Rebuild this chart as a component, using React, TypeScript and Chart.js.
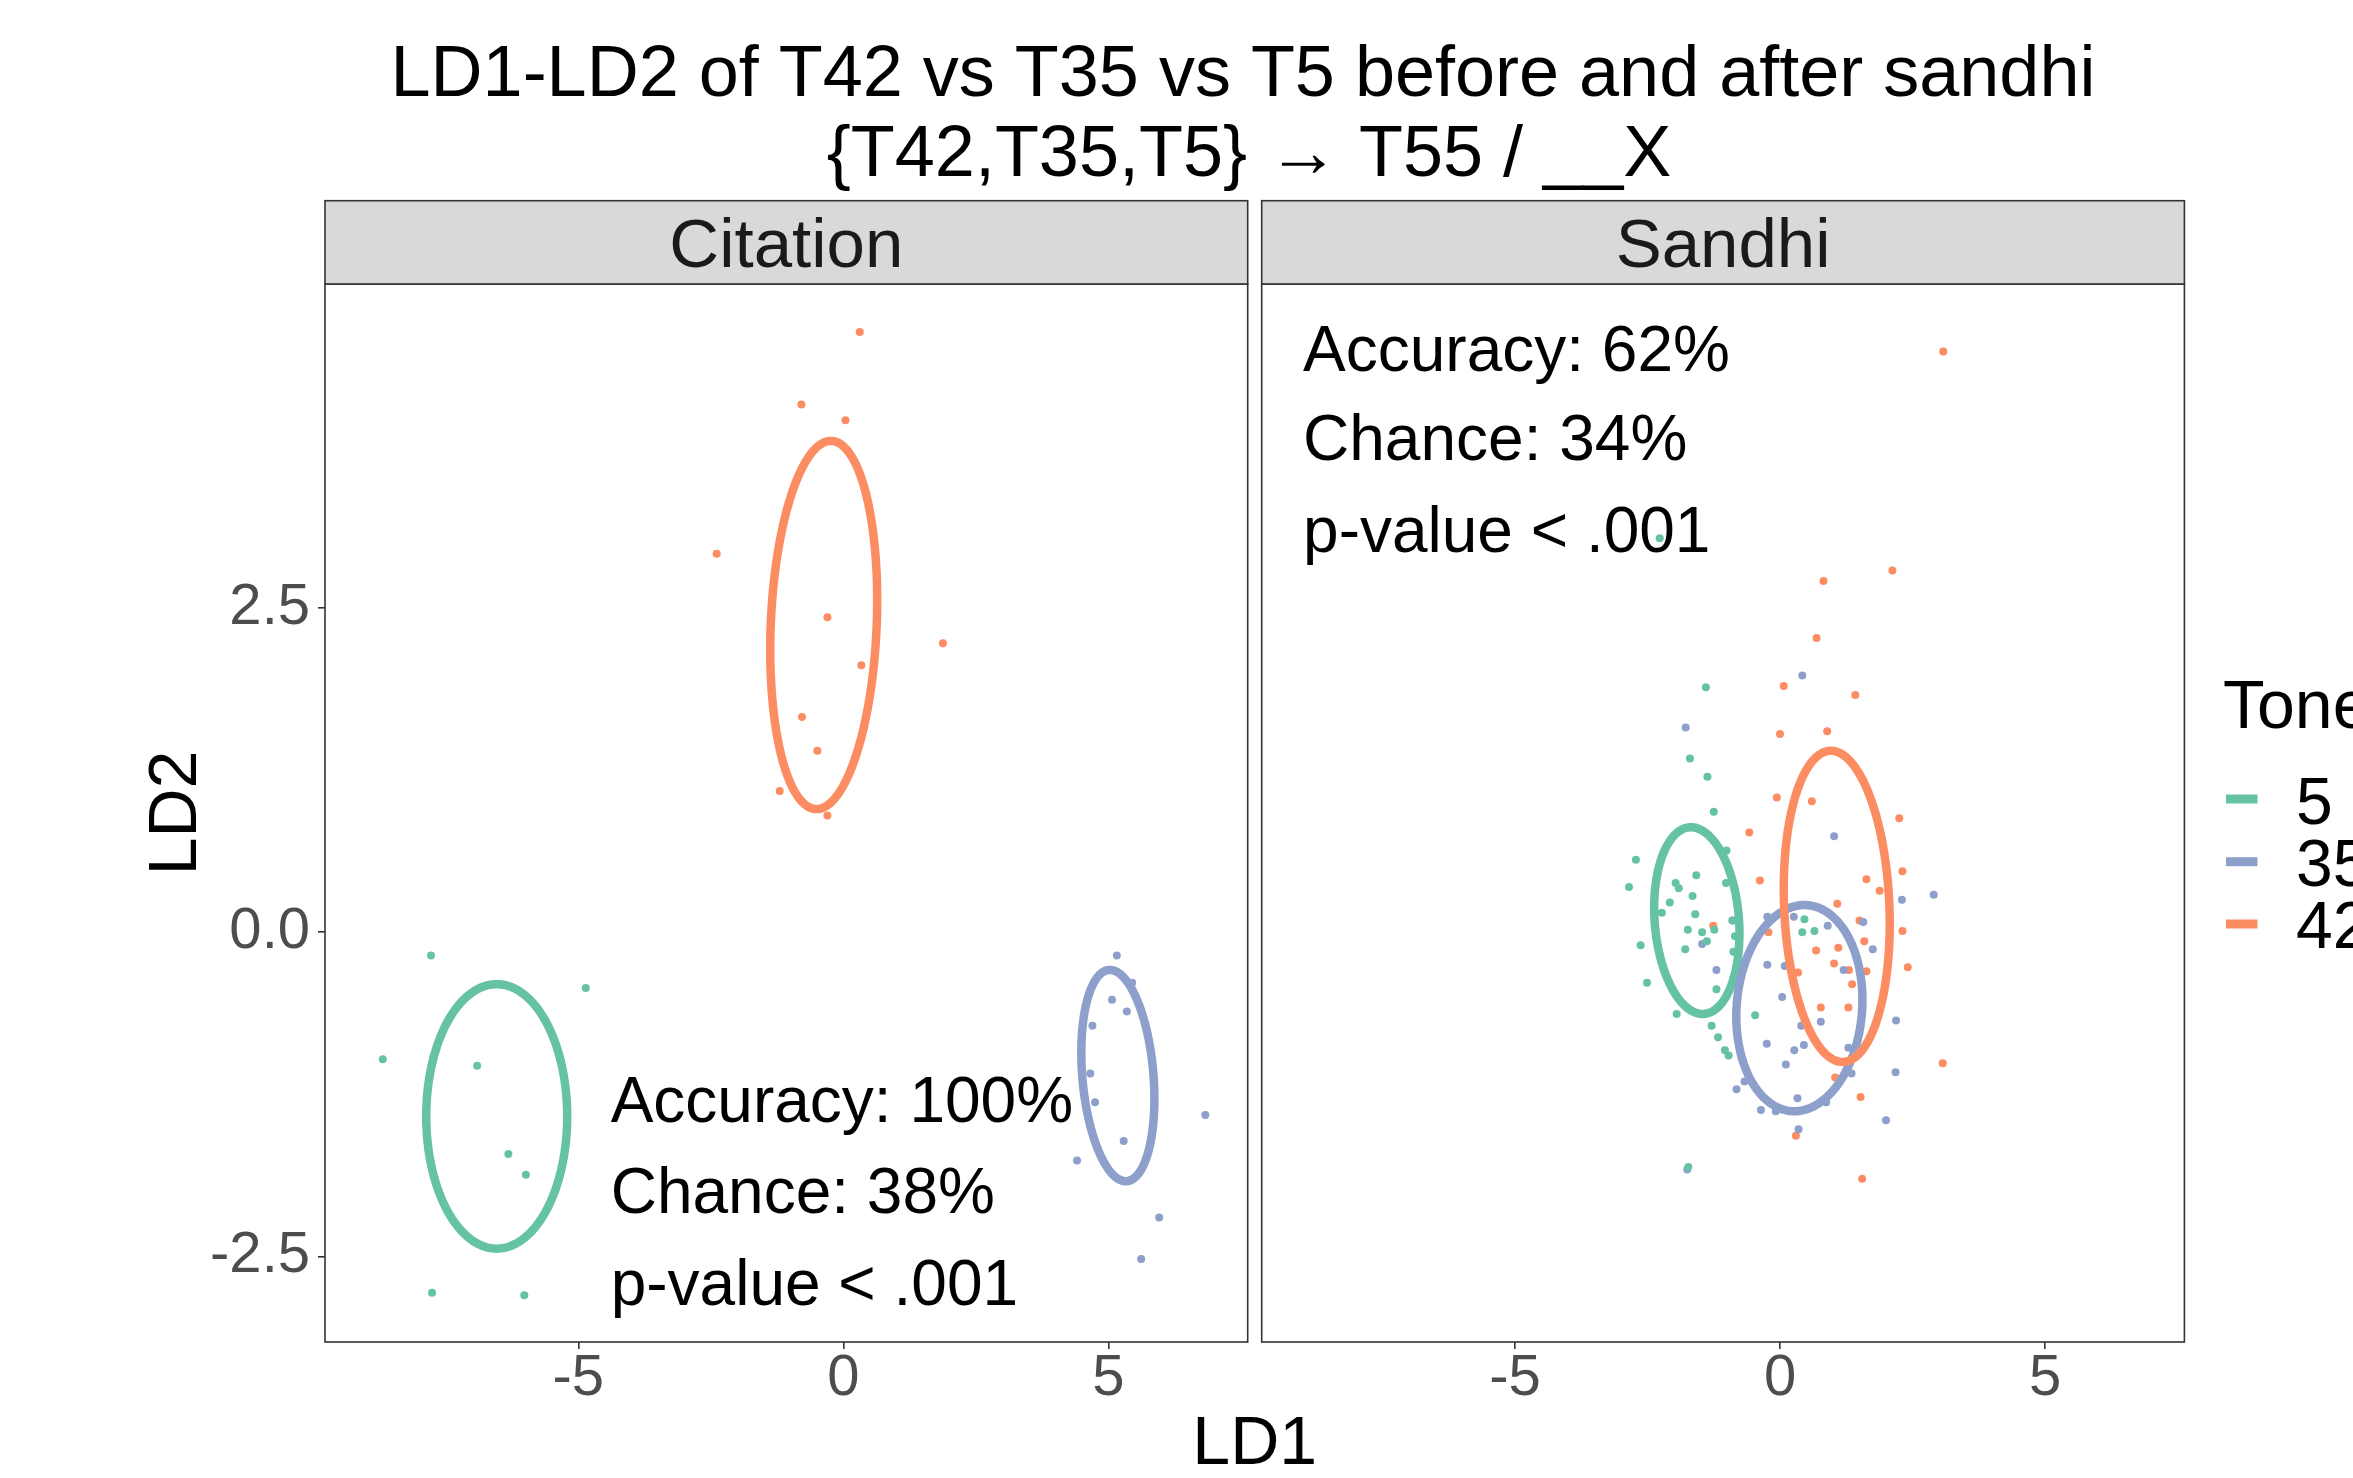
import { useEffect, useRef } from 'react';
import { Chart, registerables } from 'chart.js';

Chart.register(...registerables);

// ---------- data ----------
const toneLabels = ['5', '35', '42'];
const toneColors = ['#66C2A5', '#8DA0CB', '#FC8D62'];
const panelLabels = ['Citation', 'Sandhi'];
const xTickValues = [-5, 0, 5];
const yTickValues = [-2.5, 0, 2.5];
const xLimits = [-9.78, 7.63];
const yLimits = [-3.16, 5.0];

const citationTone5: [number, number][] = [
  [-7.78, -0.18], [-4.86, -0.43], [-8.69, -0.98], [-6.91, -1.03], [-6.32, -1.71],
  [-5.99, -1.87], [-7.76, -2.78], [-6.02, -2.8],
];
const citationTone35: [number, number][] = [
  [5.16, -0.18], [5.45, -0.39], [5.07, -0.52], [5.35, -0.61], [4.7, -0.72], [4.66, -1.09],
  [4.75, -1.31], [5.29, -1.61], [4.41, -1.76], [6.83, -1.41], [5.96, -2.2], [5.62, -2.52],
];
const citationTone42: [number, number][] = [
  [0.31, 4.63], [-0.79, 4.07], [0.04, 3.95], [-2.39, 2.92], [-0.3, 2.43], [1.88, 2.23],
  [0.34, 2.06], [-0.78, 1.66], [-0.49, 1.4], [-1.2, 1.09], [-0.3, 0.9],
];

const sandhiTone5: [number, number][] = [
  [-2.27, 3.04], [-1.4, 1.89], [-1.7, 1.34], [-1.37, 1.2], [-1.25, 0.93], [-2.72, 0.56],
  [-2.85, 0.35], [-1.01, 0.63], [-1.58, 0.44], [-1.97, 0.38], [-1.91, 0.34], [-1.65, 0.28],
  [-1.02, 0.38], [-2.08, 0.23], [-2.23, 0.15], [-1.6, 0.14], [-0.89, 0.09], [-1.74, 0.02],
  [-1.47, 0.0], [-1.38, -0.07], [-1.24, 0.02], [-0.85, -0.03], [-1.79, -0.13], [-0.88, -0.15],
  [-2.63, -0.1], [0.46, 0.1], [0.42, 0.0], [0.65, 0.01], [-1.2, -0.44], [-2.51, -0.39],
  [-1.95, -0.63], [-0.47, -0.64], [-1.29, -0.72], [-1.17, -0.81], [-1.04, -0.91], [-0.97, -0.95],
  [-1.73, -1.81],
];
const sandhiTone35: [number, number][] = [
  [0.42, 1.98], [-1.78, 1.58], [1.02, 0.74], [2.3, 0.25], [2.9, 0.29], [-0.24, 0.12],
  [0.26, 0.12], [0.9, 0.05], [1.57, 0.08], [-0.9, 0.09], [-1.47, -0.09], [1.75, -0.13],
  [-1.2, -0.29], [-0.24, -0.25], [0.09, -0.26], [1.2, -0.29], [0.04, -0.5], [0.77, -0.69],
  [2.19, -0.68], [0.4, -0.72], [-0.25, -0.86], [0.27, -0.91], [0.45, -0.87], [1.29, -0.89],
  [0.11, -1.02], [2.18, -1.08], [1.35, -1.09], [-0.67, -1.15], [-0.82, -1.21], [-0.36, -1.37],
  [-0.08, -1.38], [0.33, -1.28], [0.87, -1.31], [2.0, -1.45], [0.35, -1.52], [-1.75, -1.83],
];
const sandhiTone42: [number, number][] = [
  [3.08, 4.48], [2.12, 2.79], [0.82, 2.71], [0.69, 2.27], [0.07, 1.9], [1.42, 1.83],
  [0.0, 1.53], [0.89, 1.55], [-0.06, 1.04], [0.6, 1.01], [2.25, 0.88], [-0.58, 0.77],
  [-0.38, 0.4], [2.31, 0.47], [1.63, 0.41], [1.88, 0.32], [1.08, 0.22], [-1.26, 0.05],
  [-0.22, 0.0], [1.5, 0.09], [2.31, 0.01], [1.59, -0.07], [1.1, -0.12], [0.68, -0.14],
  [1.02, -0.24], [2.41, -0.27], [1.3, -0.29], [1.63, -0.3], [0.34, -0.31], [1.36, -0.4],
  [0.77, -0.58], [1.29, -0.58], [3.07, -1.01], [1.04, -1.12], [1.52, -1.27], [0.3, -1.57],
  [1.55, -1.9],
];

// ellipse = centre + u*cos(t) + v*sin(t), in data units
const citationEllipseCenters: [number, number][] = [[-6.54, -1.42], [5.18, -1.105], [-0.37, 2.37]];
const citationEllipseU: [number, number][] = [[1.33, 0], [0.673, 0], [1.0, 0]];
const citationEllipseV: [number, number][] = [[0, 1.02], [-0.15, 0.815], [0.135, 1.42]];
const sandhiEllipseCenters: [number, number][] = [[-1.57, 0.09], [0.365, -0.585], [1.07, 0.2]];
const sandhiEllipseU: [number, number][] = [[0.797, 0], [1.186, 0], [0.994, 0]];
const sandhiEllipseV: [number, number][] = [[-0.11, 0.72], [0.095, 0.795], [-0.11, 1.2]];

const citationStats = ['Accuracy: 100%', 'Chance: 38%', 'p-value < .001'];
const sandhiStats = ['Accuracy: 62%', 'Chance: 34%', 'p-value < .001'];

const titleLines = ['LD1-LD2 of T42 vs T35 vs T5 before and after sandhi', '{T42,T35,T5} \u2192 T55 / __X'];
const xTitle = 'LD1';
const yTitle = 'LD2';
const legendTitle = 'Tone';

// ---------- layout ----------
const W = 2353;
const H = 1478;
const FONT = "'Liberation Sans', Arial, Helvetica, sans-serif";
const PANEL_TOP = 284;
const PANEL_BOTTOM = 1342;
const STRIP_TOP = 200.7;
const CIT_LEFT = 325;
const CIT_RIGHT = 1247.7;
const SAN_LEFT = 1261.7;
const SAN_RIGHT = 2184.4;

type Panel = {
  points: [number, number][][];
  centers: [number, number][];
  us: [number, number][];
  vs: [number, number][];
  stats: string[];
  statsX: number;
  statsY: number[];
  label: string;
};

function makePanelPlugin(p: Panel, drawGlobal: boolean) {
  return {
    id: 'panelDeco' + p.label,
    afterDatasetsDraw(chart: any) {
      const ctx: CanvasRenderingContext2D = chart.ctx;
      const xs = chart.scales.x;
      const ys = chart.scales.y;
      const a = chart.chartArea;
      ctx.save();
      ctx.beginPath();
      ctx.rect(a.left, a.top, a.right - a.left, a.bottom - a.top);
      ctx.clip();
      for (let k = 0; k < p.centers.length; k++) {
        const c = p.centers[k], u = p.us[k], v = p.vs[k];
        ctx.beginPath();
        const n = 200;
        for (let i = 0; i <= n; i++) {
          const t = (i / n) * Math.PI * 2;
          const dx = c[0] + u[0] * Math.cos(t) + v[0] * Math.sin(t);
          const dy = c[1] + u[1] * Math.cos(t) + v[1] * Math.sin(t);
          const px = xs.getPixelForValue(dx);
          const py = ys.getPixelForValue(dy);
          if (i === 0) ctx.moveTo(px, py);
          else ctx.lineTo(px, py);
        }
        ctx.closePath();
        ctx.strokeStyle = toneColors[k];
        ctx.lineWidth = 8.5;
        ctx.lineJoin = 'round';
        ctx.stroke();
      }
      // stats text
      ctx.fillStyle = '#000000';
      ctx.font = `64px ${FONT}`;
      ctx.textAlign = 'left';
      ctx.textBaseline = 'alphabetic';
      const sx = xs.getPixelForValue(p.statsX);
      p.stats.forEach((s, i) => {
        ctx.fillText(s, sx, ys.getPixelForValue(p.statsY[i]));
      });
      ctx.restore();
    },
    afterDraw(chart: any) {
      const ctx: CanvasRenderingContext2D = chart.ctx;
      const a = chart.chartArea;
      ctx.save();
      // panel border
      ctx.strokeStyle = '#333333';
      ctx.lineWidth = 1.6;
      ctx.strokeRect(a.left, a.top, a.right - a.left, a.bottom - a.top);
      // strip
      ctx.fillStyle = '#D9D9D9';
      ctx.fillRect(a.left, STRIP_TOP, a.right - a.left, a.top - STRIP_TOP);
      ctx.strokeRect(a.left, STRIP_TOP, a.right - a.left, a.top - STRIP_TOP);
      ctx.fillStyle = '#1A1A1A';
      ctx.font = `69px ${FONT}`;
      ctx.textAlign = 'center';
      ctx.textBaseline = 'alphabetic';
      ctx.fillText(p.label, (a.left + a.right) / 2, 266.5);

      if (drawGlobal) {
        ctx.fillStyle = '#000000';
        ctx.font = `72px ${FONT}`;
        ctx.textAlign = 'center';
        ctx.fillText(titleLines[0], 1243, 96);
        ctx.fillText(titleLines[1], 1249, 176);
        // axis titles
        ctx.font = `68px ${FONT}`;
        ctx.fillText(xTitle, (CIT_LEFT + SAN_RIGHT) / 2, 1464);
        ctx.save();
        ctx.translate(196, (PANEL_TOP + PANEL_BOTTOM) / 2);
        ctx.rotate(-Math.PI / 2);
        ctx.fillText(yTitle, 0, 0);
        ctx.restore();
        // legend
        ctx.textAlign = 'left';
        ctx.font = `68px ${FONT}`;
        ctx.fillText(legendTitle, 2223, 728);
        const keyY = [799, 861.7, 924];
        const labY = [824.3, 886, 947.5];
        ctx.font = `66px ${FONT}`;
        toneLabels.forEach((t, i) => {
          ctx.strokeStyle = toneColors[i];
          ctx.lineWidth = 9;
          ctx.lineCap = 'butt';
          ctx.beginPath();
          ctx.moveTo(2226, keyY[i]);
          ctx.lineTo(2257.5, keyY[i]);
          ctx.stroke();
          ctx.fillStyle = '#000000';
          ctx.fillText(t, 2296, labY[i]);
        });
      }
      ctx.restore();
    },
  };
}

function makeConfig(p: Panel, left: number, right: number, showY: boolean, drawGlobal: boolean): any {
  return {
    type: 'scatter',
    data: {
      datasets: p.points.map((pts, i) => ({
        label: toneLabels[i],
        data: pts.map(([x, y]) => ({ x, y })),
        backgroundColor: toneColors[i],
        borderWidth: 0,
        pointRadius: 4,
        pointHoverRadius: 4,
      })),
    },
    options: {
      responsive: false,
      maintainAspectRatio: false,
      animation: false,
      events: [],
      layout: { autoPadding: false, padding: { left: showY ? 0 : left, right: W - right, top: PANEL_TOP, bottom: 0 } },
      plugins: { legend: { display: false }, tooltip: { enabled: false }, title: { display: false } },
      scales: {
        x: {
          type: 'linear',
          min: xLimits[0],
          max: xLimits[1],
          afterBuildTicks: (s: any) => {
            s.ticks = xTickValues.map((v) => ({ value: v }));
          },
          afterFit: (s: any) => {
            s.height = H - PANEL_BOTTOM;
          },
          ticks: {
            font: { family: FONT, size: 58, lineHeight: 1 },
            color: '#4D4D4D',
            padding: 1,
            maxRotation: 0,
            autoSkip: false,
            callback: (v: any) => String(v),
          },
          grid: { display: true, drawOnChartArea: false, drawTicks: true, tickLength: 7, color: '#333333', lineWidth: 1.6 },
          border: { display: false },
        },
        y: {
          type: 'linear',
          display: showY,
          min: yLimits[0],
          max: yLimits[1],
          afterBuildTicks: (s: any) => {
            s.ticks = yTickValues.map((v) => ({ value: v }));
          },
          afterFit: (s: any) => {
            s.width = showY ? left : 0;
          },
          ticks: {
            font: { family: FONT, size: 58, lineHeight: 1 },
            color: '#4D4D4D',
            padding: 8,
            autoSkip: false,
            callback: (v: any) => Number(v).toFixed(1),
          },
          grid: { display: true, drawOnChartArea: false, drawTicks: true, tickLength: 7, color: '#333333', lineWidth: 1.6 },
          border: { display: false },
        },
      },
    },
    plugins: [makePanelPlugin(p, drawGlobal)],
  };
}

const citationPanel: Panel = {
  points: [citationTone5, citationTone35, citationTone42],
  centers: citationEllipseCenters,
  us: citationEllipseU,
  vs: citationEllipseV,
  stats: citationStats,
  statsX: -4.39,
  statsY: [-1.466, -2.168, -2.878],
  label: panelLabels[0],
};
const sandhiPanel: Panel = {
  points: [sandhiTone5, sandhiTone35, sandhiTone42],
  centers: sandhiEllipseCenters,
  us: sandhiEllipseU,
  vs: sandhiEllipseV,
  stats: sandhiStats,
  statsX: -9.0,
  statsY: [4.329, 3.64, 2.933],
  label: panelLabels[1],
};

export default function App() {
  const refA = useRef<HTMLCanvasElement>(null);
  const refB = useRef<HTMLCanvasElement>(null);
  useEffect(() => {
    const a = new Chart(refA.current!, makeConfig(citationPanel, CIT_LEFT, CIT_RIGHT, true, true));
    const b = new Chart(refB.current!, makeConfig(sandhiPanel, SAN_LEFT, SAN_RIGHT, false, false));
    return () => {
      a.destroy();
      b.destroy();
    };
  }, []);
  const cs: any = { position: 'absolute', left: 0, top: 0, width: W, height: H };
  return (
    <div style={{ position: 'absolute', left: 0, top: 0, width: W, height: H, overflow: 'hidden', background: '#ffffff' }}>
      <canvas ref={refA} width={W} height={H} style={cs} />
      <canvas ref={refB} width={W} height={H} style={cs} />
    </div>
  );
}
